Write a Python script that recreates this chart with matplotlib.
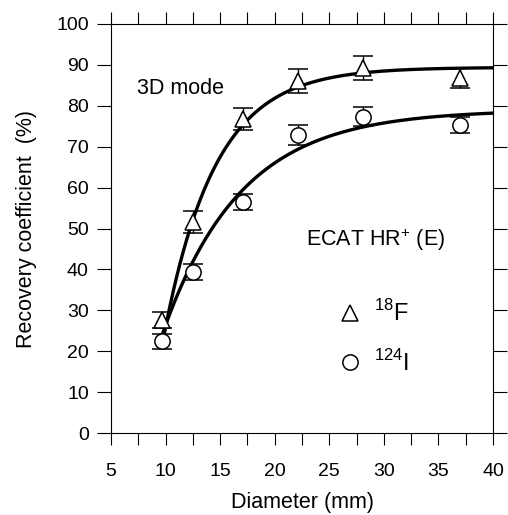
import numpy as np
import matplotlib
matplotlib.use("Agg")
import matplotlib.pyplot as plt
from matplotlib.lines import Line2D
from matplotlib.ticker import MultipleLocator

plt.rcParams['font.family'] = ['Liberation Sans', 'DejaVu Sans']
plt.rcParams['mathtext.fontset'] = 'custom'
plt.rcParams['mathtext.rm'] = 'Liberation Sans'

# sphere diameters (mm)
diam = [9.7, 12.5, 17.1, 22.1, 28.1, 37.0]

# 18F recovery coefficients (%) and errors
rc_f18 = [27.6, 51.5, 76.8, 86.1, 89.2, 86.8]
err_f18 = [2.0, 2.7, 2.7, 2.9, 2.9, 2.5]

# 124I recovery coefficients (%) and errors
rc_i124 = [22.4, 39.4, 56.5, 72.9, 77.3, 75.3]
err_i124 = [1.8, 2.0, 2.0, 2.4, 2.3, 2.0]

# fitted curves: RC = A * (1 - exp(-k * (d - d0)))
fit_f18 = dict(A=89.4, k=0.213, d0=8.4, start=9.8)
fit_i124 = dict(A=79.0, k=0.14, d0=7.1, start=9.6)

fig = plt.figure(figsize=(5.08, 5.15), dpi=100)
ax = fig.add_axes([0.2185, 0.1592, 0.752, 0.7942])

for p in (fit_f18, fit_i124):
    d = np.linspace(p['start'], 40, 200)
    ax.plot(d, p['A'] * (1 - np.exp(-p['k'] * (d - p['d0']))), color='black', lw=2.4, zorder=3)

ax.errorbar(diam, rc_f18, yerr=err_f18, fmt='^', ms=11, mfc='white', mec='black', mew=1.1,
            ecolor='black', elinewidth=1.0, capsize=7, capthick=1.0, zorder=4)
ax.errorbar(diam, rc_i124, yerr=err_i124, fmt='o', ms=11, mfc='white', mec='black', mew=1.1,
            ecolor='black', elinewidth=1.0, capsize=7, capthick=1.0, zorder=4)

ax.set_xlim(5, 40)
ax.set_ylim(0, 100)
ax.xaxis.set_major_locator(MultipleLocator(5))
ax.xaxis.set_minor_locator(MultipleLocator(2.5))
ax.yaxis.set_major_locator(MultipleLocator(10))
ax.tick_params(axis='x', which='both', direction='out', length=8.5, width=0.8,
               top=True, labelsize=14, pad=13)
ax.tick_params(axis='y', which='both', direction='out', length=10, width=0.8,
               right=True, labelsize=14, pad=6)
for s in ax.spines.values():
    s.set_linewidth(0.8)

ax.set_xlabel('Diameter (mm)', fontsize=15.5, labelpad=9)
ax.set_ylabel('Recovery coefficient  (%)', fontsize=15.5, labelpad=14)

ax.text(7.4, 84.3, '3D mode', fontsize=15.5, va='center', ha='left')
ax.text(22.9, 47.2, 'ECAT HR$^{+}$ (E)', fontsize=15.5, va='center', ha='left')

handles = [Line2D([], [], ls='none', marker='^', ms=11, mfc='white', mec='black', mew=1.1),
           Line2D([], [], ls='none', marker='o', ms=11, mfc='white', mec='black', mew=1.1)]
ax.legend(handles, ['$^{18}$F', '$^{124}$I'], loc='center left', bbox_to_anchor=(0.54, 0.233),
          frameon=False, fontsize=17, handlelength=1.0, handletextpad=0.5, labelspacing=1.0)

fig.savefig('out.png', dpi=100)
